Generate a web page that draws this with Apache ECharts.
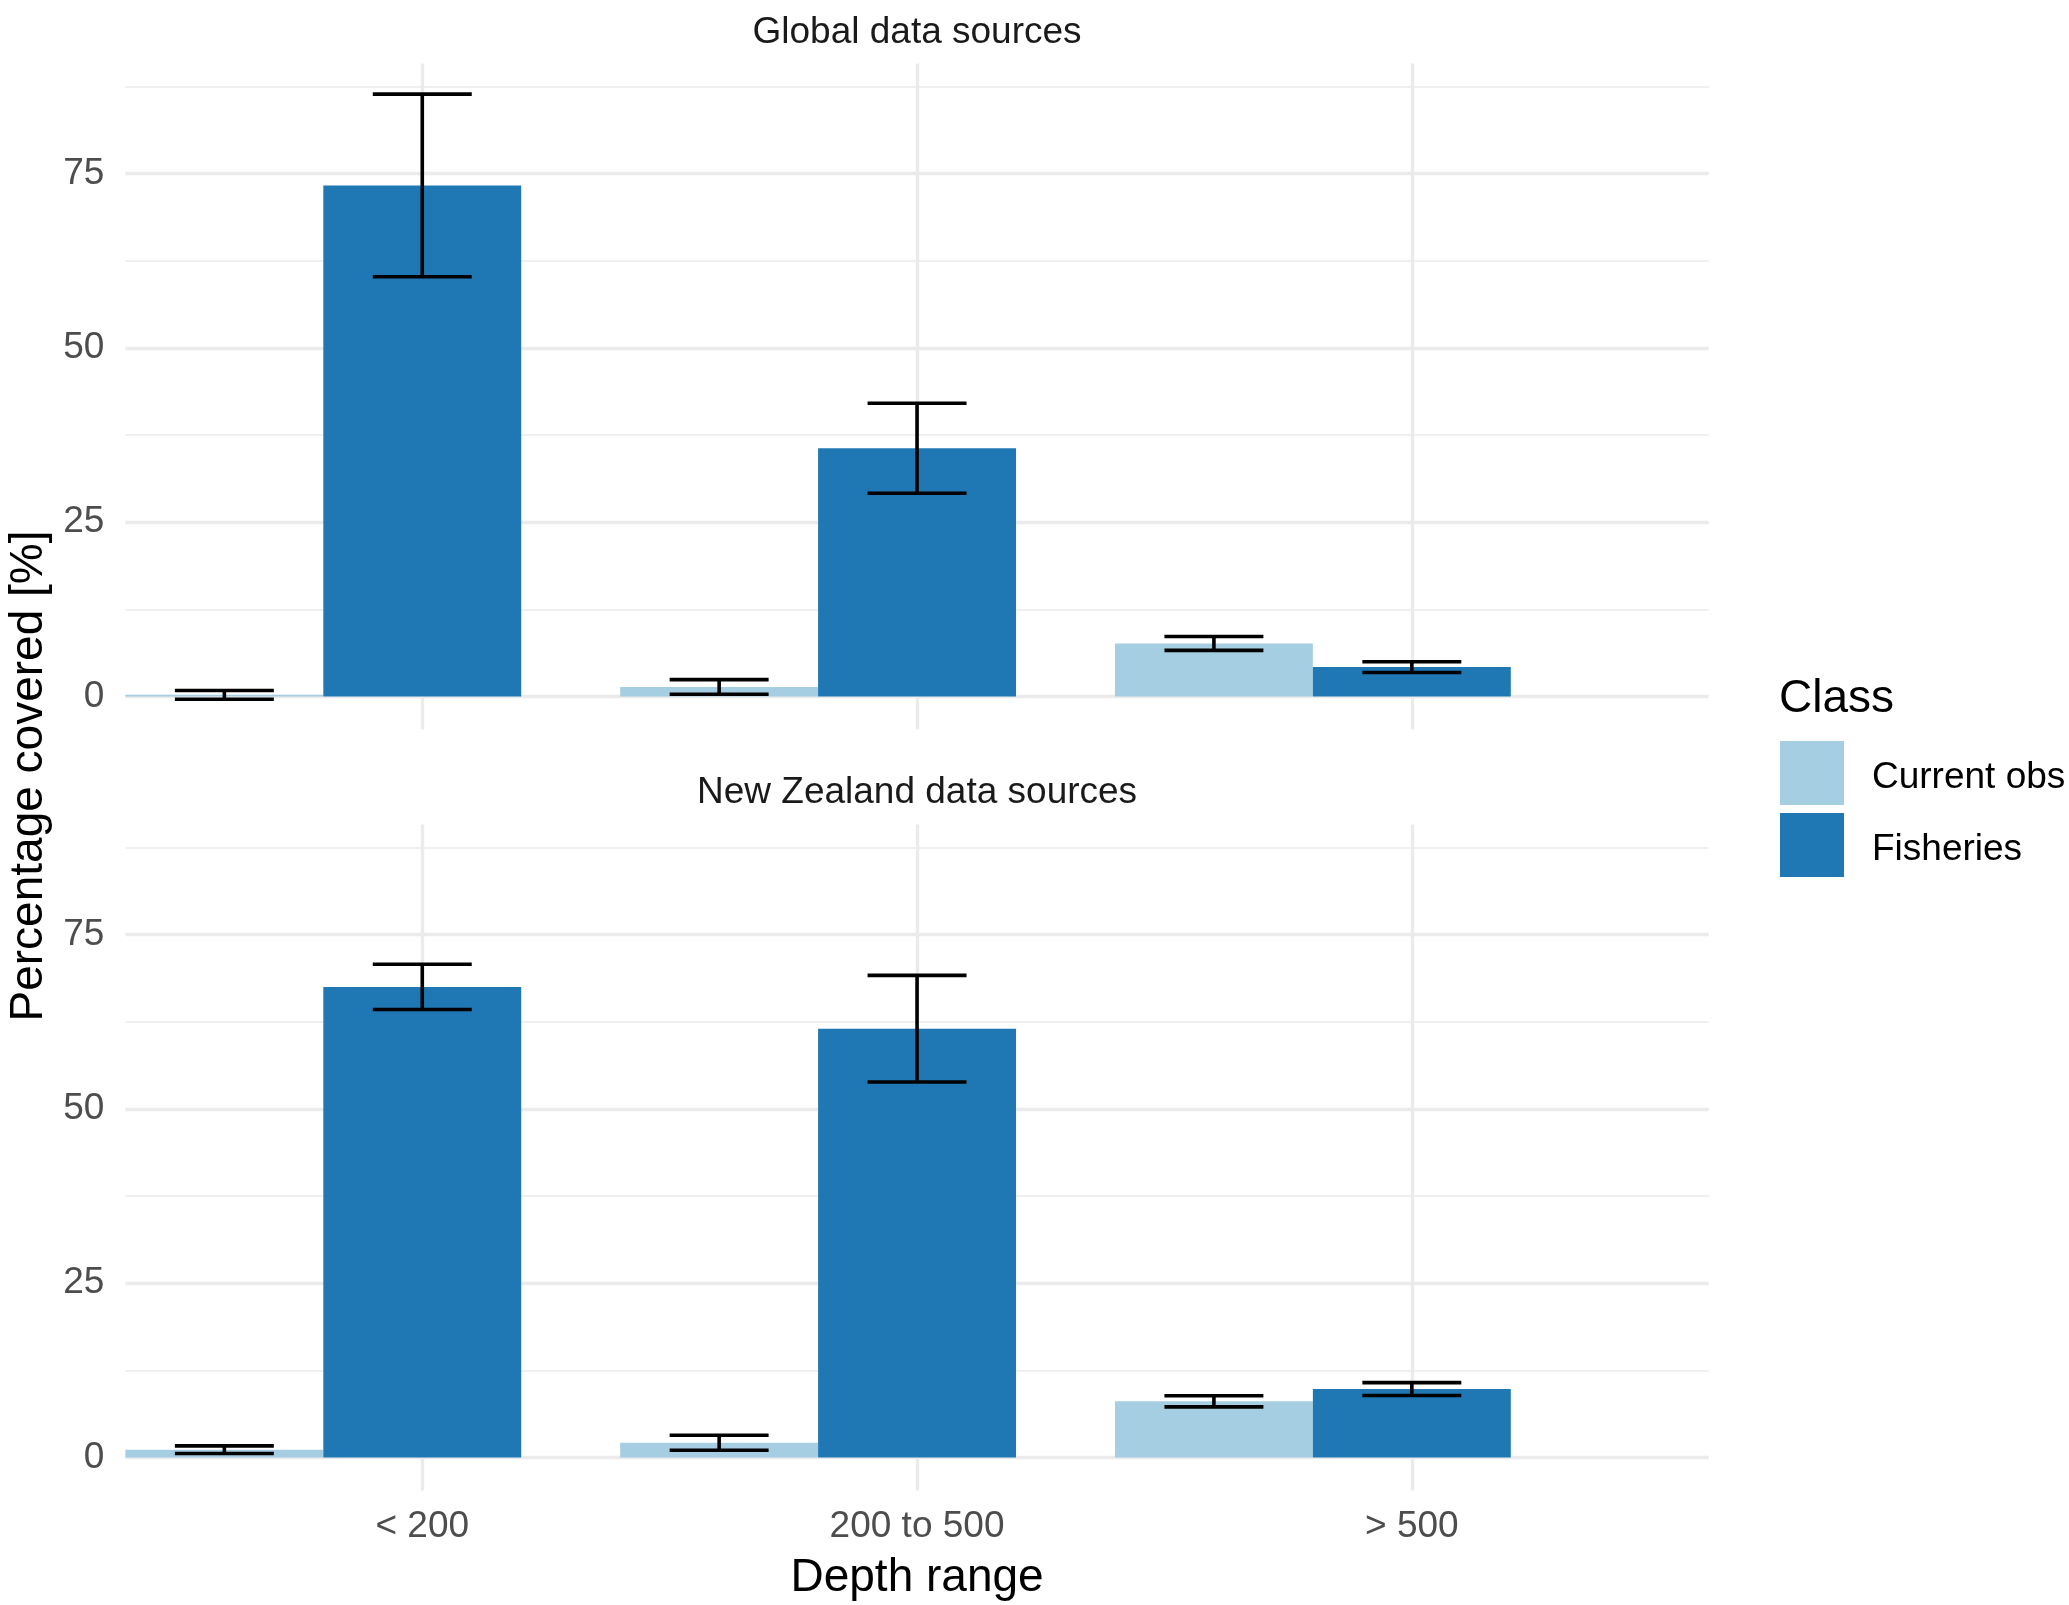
<!DOCTYPE html>
<html>
<head>
<meta charset="utf-8">
<script src="https://cdn.jsdelivr.net/npm/echarts@6/dist/echarts.min.js"></script>
<style>
html, body { margin: 0; padding: 0; background: #fff; }
#chart { width: 2069px; height: 1605px; }
</style>
</head>
<body>
<div id="chart"></div>
<script>
'use strict';

// categories and classes
var depthLabels = ['< 200', '200 to 500', '> 500'];
var classNames = ['Current obs', 'Fisheries'];
var panelTitles = ['Global data sources', 'New Zealand data sources'];

// Global panel: means and error half-widths
var globalCurrent = [0.22, 1.35, 7.6];
var globalCurrentErr = [0.63, 1.05, 1.0];
var globalFisheries = [73.3, 35.6, 4.2];
var globalFisheriesErr = [13.1, 6.45, 0.78];

// New Zealand panel
var nzCurrent = [1.1, 2.1, 8.05];
var nzCurrentErr = [0.55, 1.08, 0.8];
var nzFisheries = [67.5, 61.5, 9.8];
var nzFisheriesErr = [3.25, 7.65, 0.93];

// y axis ticks
var yMajorTicks = [0, 25, 50, 75];
var yMinorTicks = [12.5, 37.5, 62.5, 87.5];
var yMin = -4.75, yMax = 90.8;

var colors = ['#A6CEE3', '#1F78B4'];
var font = 'Liberation Sans';

// layout (px)
var panelLeft = 125.4, panelWidth = 1583.3, panelHeight = 666;
var panelTops = [63.5, 824.5];
var band = panelWidth / 3.2;

var chart = echarts.init(document.getElementById('chart'));

var grids = [], xAxes = [], yAxes = [], series = [];

function errData(means, errs) {
    return means.map(function (m, i) {
        return [i, m, m - errs[i], m + errs[i]];
    });
}

function errorBarSeries(name, xi, yi, means, errs, side) {
    return {
        name: name,
        type: 'custom',
        xAxisIndex: xi,
        yAxisIndex: yi,
        z: 5,
        silent: true,
        clip: false,
        data: errData(means, errs),
        renderItem: function (params, api) {
            var bw = api.size([1, 0])[0];
            var lo = api.coord([api.value(0), api.value(2)]);
            var hi = api.coord([api.value(0), api.value(3)]);
            var cx = lo[0] + side * 0.2 * bw;
            var half = 0.1 * bw;
            var st = { stroke: '#000', lineWidth: 3.6 };
            return {
                type: 'group',
                children: [
                    { type: 'line', shape: { x1: cx, y1: lo[1], x2: cx, y2: hi[1] }, style: st },
                    { type: 'line', shape: { x1: cx - half, y1: lo[1], x2: cx + half, y2: lo[1] }, style: st },
                    { type: 'line', shape: { x1: cx - half, y1: hi[1], x2: cx + half, y2: hi[1] }, style: st }
                ]
            };
        }
    };
}

var panels = [
    { cur: globalCurrent, curErr: globalCurrentErr, fish: globalFisheries, fishErr: globalFisheriesErr },
    { cur: nzCurrent, curErr: nzCurrentErr, fish: nzFisheries, fishErr: nzFisheriesErr }
];

panels.forEach(function (p, k) {
    var top = panelTops[k];
    var isBottom = (k === 1);
    var bg = grids.length;
    // background grid (full panel width, gridlines + labels)
    grids.push({ left: panelLeft, top: top, width: panelWidth, height: panelHeight, containLabel: false });
    // bars grid: dodged groups sit 0.2 band left of the tick, so Fisheries lands on it
    grids.push({ left: panelLeft - 0.1 * band, top: top, width: 3 * band, height: panelHeight, containLabel: false });

    xAxes.push({
        type: 'value', gridIndex: bg, min: 0.4, max: 3.6,
        axisLine: { show: false },
        axisTick: { show: false, customValues: [1, 2, 3] },
        axisLabel: {
            show: isBottom, customValues: [1, 2, 3], margin: 18,
            color: '#4D4D4D', fontSize: 37, fontFamily: font,
            formatter: function (v) { return depthLabels[Math.round(v) - 1]; }
        },
        splitLine: { show: true, lineStyle: { color: '#EBEBEB', width: 3.3 } }
    });
    xAxes.push({
        type: 'category', gridIndex: bg + 1, data: depthLabels,
        axisLine: { show: false }, axisTick: { show: false },
        axisLabel: { show: false }, splitLine: { show: false }
    });

    yAxes.push({
        type: 'value', gridIndex: bg, min: yMin, max: yMax,
        axisLine: { show: false },
        axisTick: { show: false, customValues: yMajorTicks },
        axisLabel: { customValues: yMajorTicks, margin: 21, color: '#4D4D4D', fontSize: 37, fontFamily: font },
        splitLine: { show: true, lineStyle: { color: '#EBEBEB', width: 3.3 } }
    });
    yAxes.push({
        type: 'value', gridIndex: bg, min: yMin, max: yMax, position: 'left',
        axisLine: { show: false },
        axisTick: { show: false, customValues: yMinorTicks },
        axisLabel: { show: false },
        splitLine: { show: true, lineStyle: { color: '#EBEBEB', width: 1.7 } }
    });
    var yBarIdx = yAxes.length;
    yAxes.push({
        type: 'value', gridIndex: bg + 1, min: yMin, max: yMax,
        axisLine: { show: false }, axisTick: { show: false },
        axisLabel: { show: false }, splitLine: { show: false }
    });

    var xBarIdx = bg + 1;
    series.push({
        name: classNames[0], type: 'bar', xAxisIndex: xBarIdx, yAxisIndex: yBarIdx,
        data: p.cur, barWidth: '40%', barGap: '0%', itemStyle: { color: colors[0] }
    });
    series.push({
        name: classNames[1], type: 'bar', xAxisIndex: xBarIdx, yAxisIndex: yBarIdx,
        data: p.fish, barWidth: '40%', barGap: '0%', itemStyle: { color: colors[1] }
    });
    series.push(errorBarSeries('err-cur-' + k, xBarIdx, yBarIdx, p.cur, p.curErr, -1));
    series.push(errorBarSeries('err-fish-' + k, xBarIdx, yBarIdx, p.fish, p.fishErr, 1));
});

var option = {
    backgroundColor: '#fff',
    animation: false,
    textStyle: { fontFamily: font },
    grid: grids,
    xAxis: xAxes,
    yAxis: yAxes,
    legend: {
        data: classNames,
        orient: 'vertical',
        left: 1780, top: 741,
        padding: 0,
        itemWidth: 64, itemHeight: 64, itemGap: 8,
        icon: 'rect',
        selectedMode: false,
        formatter: '{t|{name}}',
        textStyle: {
            fontSize: 37, color: '#000', fontFamily: font,
            rich: { t: { fontSize: 37, color: '#000', fontFamily: font, padding: [10, 0, 0, 23] } }
        }
    },
    graphic: [
        { type: 'text', x: panelLeft + panelWidth / 2, y: 33,
          style: { text: panelTitles[0], fontSize: 37, fontFamily: font, fill: '#1A1A1A', align: 'center', verticalAlign: 'middle' } },
        { type: 'text', x: panelLeft + panelWidth / 2, y: 793,
          style: { text: panelTitles[1], fontSize: 37, fontFamily: font, fill: '#1A1A1A', align: 'center', verticalAlign: 'middle' } },
        { type: 'text', x: panelLeft + panelWidth / 2, y: 1578,
          style: { text: 'Depth range', fontSize: 46, fontFamily: font, fill: '#000', align: 'center', verticalAlign: 'middle' } },
        { type: 'text', x: 29, y: 776, rotation: Math.PI / 2,
          style: { text: 'Percentage covered [%]', fontSize: 46, fontFamily: font, fill: '#000', align: 'center', verticalAlign: 'middle' } },
        { type: 'text', x: 1779, y: 699,
          style: { text: 'Class', fontSize: 46, fontFamily: font, fill: '#000', align: 'left', verticalAlign: 'middle' } }
    ],
    series: series
};

chart.setOption(option);
</script>
</body>
</html>
